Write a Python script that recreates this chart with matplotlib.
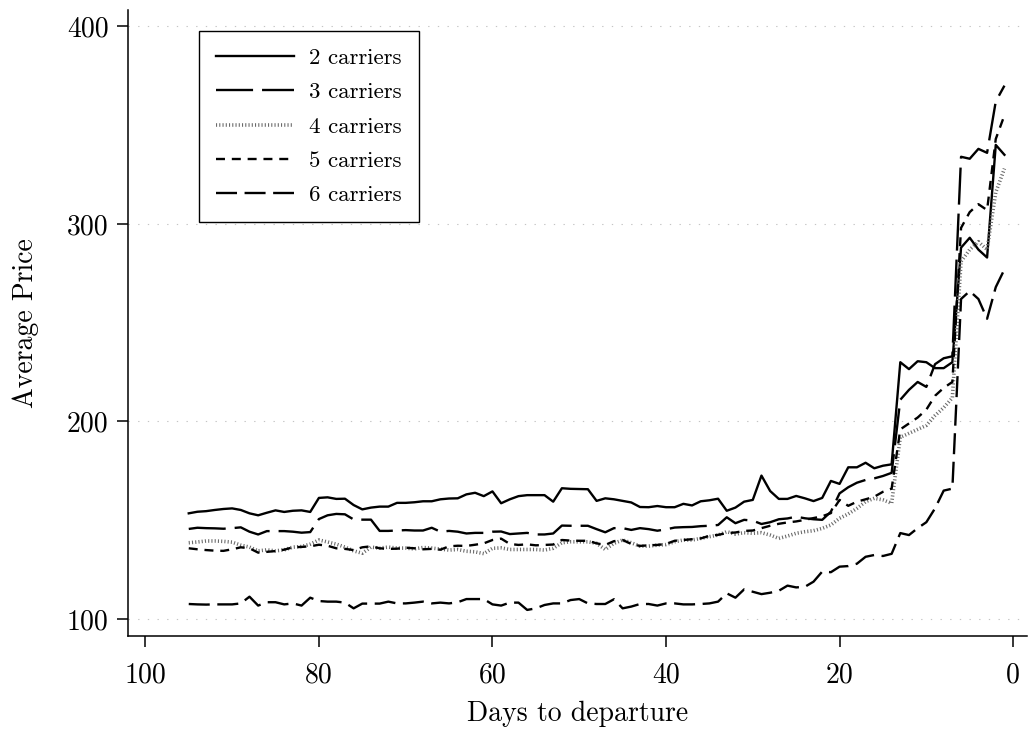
import matplotlib
matplotlib.use("Agg")
import matplotlib.pyplot as plt
import numpy as np

plt.rcParams['font.family'] = ['cmr10', 'DejaVu Serif']
plt.rcParams['axes.formatter.use_mathtext'] = True

days = list(range(95, 0, -1))

carriers2 = [153.5, 154.3, 154.6, 155.2, 155.7, 156.0, 155.2, 153.5, 152.5, 153.8,
             155.0, 154.2, 154.8, 155.0, 154.2, 161.3, 161.6, 160.8, 160.9, 157.7,
             155.5, 156.4, 156.9, 156.9, 158.8, 158.8, 159.1, 159.6, 159.6, 160.6,
             161.0, 161.1, 163.1, 163.9, 162.2, 164.6, 158.6, 160.6, 162.2, 162.7,
             162.7, 162.7, 159.4, 166.2, 165.9, 165.8, 165.7, 159.8, 161.1, 160.6,
             159.8, 159.0, 156.7, 156.6, 157.2, 156.6, 156.6, 158.3, 157.5, 159.6,
             160.1, 160.9, 154.8, 156.4, 159.4, 160.3, 172.6, 164.8, 160.8, 160.8,
             162.3, 161.1, 159.7, 161.3, 169.9, 168.4, 176.8, 176.8, 179.1, 176.3,
             177.6, 178.3, 230.0, 226.5, 230.5, 230.0, 227.0, 227.0, 230.0, 288.0,
             293.0, 287.0, 283.0, 340.0, 335.0]

carriers3 = [145.6, 146.2, 146.0, 145.9, 145.7, 146.0, 146.4, 144.2, 142.8, 144.5,
             144.5, 144.5, 144.2, 143.7, 144.0, 150.6, 152.5, 153.2, 153.0, 150.4,
             150.3, 150.3, 144.6, 144.6, 144.8, 145.0, 144.8, 144.8, 146.2, 144.2,
             144.6, 144.2, 143.3, 143.6, 143.6, 144.2, 144.3, 143.0, 143.3, 143.6,
             142.8, 142.8, 143.3, 147.3, 147.2, 147.2, 147.2, 145.5, 143.9, 146.0,
             146.0, 145.1, 146.0, 145.5, 144.7, 145.4, 146.3, 146.5, 146.6, 147.0,
             147.2, 147.6, 151.5, 148.5, 150.2, 149.8, 148.1, 149.0, 150.5, 150.9,
             151.8, 151.0, 150.5, 150.2, 154.3, 163.6, 166.7, 169.0, 170.4, 171.2,
             172.4, 174.0, 211.0, 216.0, 220.0, 217.5, 229.0, 232.0, 233.0, 334.0,
             333.0, 338.0, 336.0, 362.0, 370.0]

carriers4 = [138.6, 139.0, 139.5, 139.5, 139.3, 138.9, 137.4, 136.4, 134.5, 135.0,
             134.5, 135.0, 136.4, 136.7, 137.9, 140.0, 139.0, 137.9, 136.4, 134.5,
             133.3, 136.4, 135.9, 136.4, 135.9, 135.9, 135.5, 136.2, 135.9, 135.4,
             134.9, 135.2, 134.3, 134.0, 133.1, 135.8, 136.0, 135.2, 135.2, 135.2,
             135.2, 134.9, 135.8, 138.6, 139.1, 139.1, 139.1, 138.3, 135.2, 138.3,
             140.0, 138.6, 136.9, 136.9, 137.4, 137.7, 139.1, 140.0, 140.0, 140.8,
             141.7, 142.5, 144.2, 143.0, 143.7, 143.4, 143.7, 142.5, 140.8, 142.0,
             143.4, 144.2, 144.7, 145.9, 147.6, 151.0, 153.2, 156.0, 159.4, 161.1,
             160.3, 158.6, 192.0, 194.0, 196.0, 198.0, 203.0, 207.0, 212.0, 281.0,
             287.0, 291.0, 287.0, 316.0, 328.0]

carriers5 = [135.8, 135.3, 134.9, 134.6, 134.5, 135.3, 136.3, 135.8, 133.6, 134.0,
             134.4, 135.1, 136.3, 136.5, 136.8, 137.6, 137.1, 135.8, 135.5, 134.9,
             136.3, 136.8, 135.8, 135.5, 135.6, 136.1, 135.8, 135.3, 135.5, 135.1,
             136.8, 137.1, 137.0, 137.6, 138.3, 140.0, 140.7, 138.0, 137.5, 137.8,
             137.3, 137.5, 137.7, 140.0, 139.7, 139.6, 139.6, 138.3, 137.5, 139.4,
             140.0, 138.0, 137.0, 137.3, 137.5, 138.0, 139.6, 140.0, 140.4, 140.8,
             142.1, 142.6, 143.5, 143.8, 144.6, 144.8, 146.0, 147.2, 148.2, 148.9,
             149.4, 150.2, 151.1, 152.0, 153.6, 160.3, 157.3, 159.4, 160.6, 161.9,
             164.4, 166.0, 196.0, 199.0, 202.0, 206.0, 213.0, 217.0, 220.0, 298.0,
             306.0, 310.0, 307.0, 343.0, 355.0]

carriers6 = [107.6, 107.4, 107.3, 107.4, 107.4, 107.4, 107.9, 111.3, 106.8, 108.5,
             108.5, 107.4, 107.9, 106.8, 110.8, 109.1, 108.8, 108.8, 108.3, 105.4,
             107.8, 107.8, 107.8, 108.8, 107.9, 107.9, 108.3, 108.8, 107.9, 108.3,
             107.9, 108.5, 110.1, 110.1, 110.1, 107.4, 106.8, 108.3, 108.3, 104.6,
             105.4, 107.1, 107.9, 107.9, 109.6, 110.1, 107.9, 107.6, 107.6, 110.0,
             105.4, 106.3, 107.6, 107.6, 106.8, 107.9, 107.9, 107.4, 107.4, 107.6,
             107.9, 108.8, 113.0, 110.8, 115.0, 113.8, 112.6, 113.3, 114.3, 116.9,
             116.0, 116.3, 118.9, 124.0, 123.7, 126.5, 126.8, 128.0, 131.5, 132.4,
             131.9, 133.0, 143.5, 142.5, 146.0, 149.0, 156.0, 165.0, 166.0, 262.0,
             266.0, 262.0, 252.0, 268.0, 277.0]

labels = ["2 carriers", "3 carriers", "4 carriers", "5 carriers", "6 carriers"]
xticks = [100, 80, 60, 40, 20, 0]
yticks = [100, 200, 300, 400]

W, H = 1029, 730
fig = plt.figure(figsize=(W / 100, H / 100), dpi=100)
ax = fig.add_axes([128 / W, (H - 636) / H, (1027 - 128) / W, (636 - 10) / H])

lw = 1.7
ax.plot(days, carriers2, color='black', lw=lw, linestyle='-', label=labels[0])
ax.plot(days, carriers3, color='black', lw=lw, linestyle=(0, (15.7, 3.8)), label=labels[1])
ax.plot(days, carriers4, color='#6a6a6a', lw=2.6, linestyle=(0, (0.3, 0.6)), label=labels[2])
ax.plot(days, carriers5, color='black', lw=lw, linestyle=(0, (3.8, 2.9)), label=labels[3])
ax.plot(days, carriers6, color='black', lw=lw, linestyle=(0, (8.9, 3.2)), label=labels[4])

ax.set_xlim(102, -1.6)
ax.set_ylim(91.4, 408.3)
ax.set_xticks(xticks)
ax.set_yticks(yticks)
ax.set_yticklabels([str(v) for v in yticks])
ax.set_xticklabels([str(v) for v in xticks])

for y in yticks:
    ax.axhline(y, color='#c4c4c4', lw=0.8, linestyle=(0, (1.2, 7.5)), zorder=0)

for s in ['top', 'right']:
    ax.spines[s].set_visible(False)
for s in ['left', 'bottom']:
    ax.spines[s].set_linewidth(1.1)
ax.tick_params(axis='both', direction='out', length=8, width=1.1, labelsize=20, pad=6)
ax.tick_params(axis='x', pad=10.5)

ax.set_xlabel("Days to departure", fontsize=20, labelpad=9)
ax.set_ylabel("Average Price", fontsize=20, labelpad=20)

leg = ax.legend(loc='upper left', bbox_to_anchor=(0.0793, 0.9665), borderaxespad=0,
                fontsize=16.5, handlelength=3.4, handletextpad=0.65, labelspacing=0.62,
                borderpad=0.75, fancybox=False, framealpha=1, edgecolor='black')
leg.get_frame().set_linewidth(1.0)

fig.savefig("out.png", dpi=100, facecolor='white')
